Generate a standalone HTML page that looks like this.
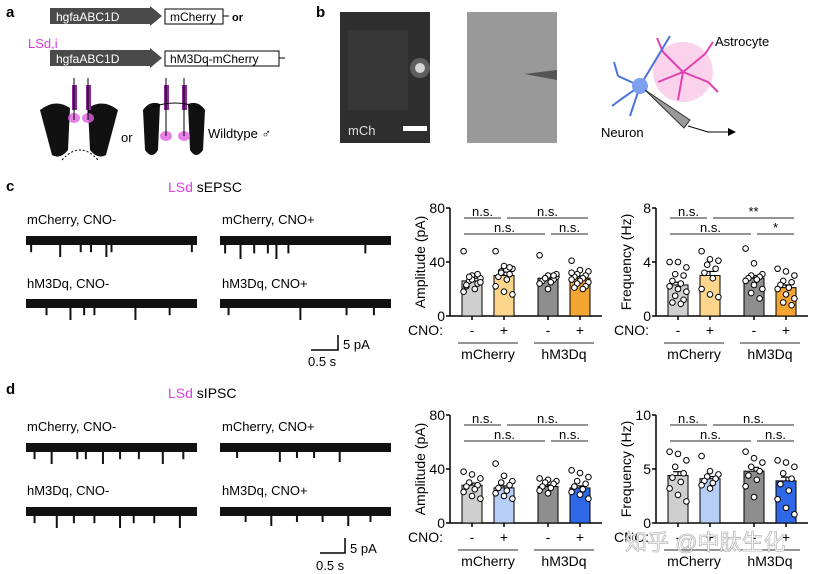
<!DOCTYPE html>
<html><head><meta charset="utf-8"><style>
html,body{margin:0;padding:0;background:#fff;}
svg{display:block;font-family:"Liberation Sans",Arial,sans-serif;}
</style></head><body>
<svg id="fig" width="831" height="574" viewBox="0 0 831 574" xmlns="http://www.w3.org/2000/svg">
<g>
<text x="6" y="17" font-size="15" font-weight="bold">a</text>
<text x="28" y="48" font-size="13" fill="#d63ad6">LSd,i</text>
<rect x="50" y="8" width="100" height="16" fill="#4a4a4a"/>
<polygon points="150,6 162,16 150,26" fill="#4a4a4a"/>
<text x="56" y="21" font-size="12" fill="#fff">hgfaABC1D</text>
<rect x="165" y="9" width="58" height="15" fill="#fff" stroke="#000"/>
<text x="170" y="21" font-size="12">mCherry</text>
<line x1="223" y1="16" x2="229" y2="16" stroke="#000"/>
<text x="232" y="21" font-size="11" font-weight="bold">or</text>
<rect x="50" y="50" width="100" height="16" fill="#4a4a4a"/>
<polygon points="150,48 162,58 150,68" fill="#4a4a4a"/>
<text x="56" y="63" font-size="12" fill="#fff">hgfaABC1D</text>
<rect x="165" y="51" width="114" height="15" fill="#fff" stroke="#000"/>
<text x="170" y="63" font-size="12">hM3Dq-mCherry</text>
<line x1="279" y1="58" x2="285" y2="58" stroke="#000"/>
<g>
<path d="M40,110 Q55,98 70,108 L68,150 Q60,160 52,155 Z" fill="#111"/>
<path d="M118,110 Q103,98 88,108 L90,150 Q98,160 106,155 Z" fill="#111"/>
<ellipse cx="74" cy="118" rx="6" ry="5" fill="#e060e0" opacity="0.8"/>
<ellipse cx="88" cy="118" rx="6" ry="5" fill="#e060e0" opacity="0.8"/>
<rect x="72" y="85" width="5" height="25" fill="#8a2a9a"/><rect x="86" y="85" width="5" height="25" fill="#8a2a9a"/>
<line x1="74" y1="78" x2="74" y2="120" stroke="#000"/><line x1="88" y1="78" x2="88" y2="120" stroke="#000"/>
<path d="M62,160 Q80,140 98,160" fill="none" stroke="#000" stroke-dasharray="2,2"/>
</g>
<text x="121" y="142" font-size="13">or</text>
<g>
<path d="M143,110 Q150,100 160,104 L158,150 Q152,160 145,150 Z" fill="#111"/>
<path d="M205,110 Q198,100 188,104 L190,150 Q196,160 203,150 Z" fill="#111"/>
<ellipse cx="166" cy="136" rx="6" ry="5" fill="#e060e0" opacity="0.8"/>
<ellipse cx="184" cy="136" rx="6" ry="5" fill="#e060e0" opacity="0.8"/>
<rect x="164" y="85" width="5" height="25" fill="#8a2a9a"/><rect x="182" y="85" width="5" height="25" fill="#8a2a9a"/>
<line x1="166" y1="78" x2="166" y2="136" stroke="#000"/><line x1="184" y1="78" x2="184" y2="136" stroke="#000"/>
<path d="M150,108 Q175,98 200,108" fill="none" stroke="#000"/>
</g>
<text x="208" y="138" font-size="13">Wildtype ♂</text>
</g>
<g>
<text x="316" y="17" font-size="15" font-weight="bold">b</text>
<rect x="340" y="12" width="90" height="131" fill="#2e2e2e"/>
<rect x="348" y="30" width="60" height="80" fill="#3d3d3d" opacity="0.6"/>
<circle cx="420" cy="68" r="5" fill="#f4f4f4"/>
<circle cx="420" cy="68" r="10" fill="#aaa" opacity="0.4"/>
<text x="348" y="135" font-size="13" fill="#ddd">mCh</text>
<rect x="403" y="126" width="24" height="5" fill="#fff"/>
<rect x="467" y="12" width="90" height="131" fill="#8c8c8c"/>
<rect x="467" y="12" width="90" height="131" fill="#a5a5a5" opacity="0.5"/>
<polygon points="524,74 557,70 557,80" fill="#555"/>
<text x="715" y="46" font-size="13">Astrocyte</text>
<circle cx="683" cy="72" r="30" fill="#f6b4e0" opacity="0.6"/>
<path d="M683,72 l-20,-20 M683,72 l22,-18 M683,72 l25,10 M683,72 l-5,28 M683,72 l-25,10 M663,52 l-6,-14 M705,54 l8,-12 M708,82 l10,10" stroke="#e040b0" stroke-width="2" fill="none"/>
<path d="M640,86 l-22,-10 M640,86 l-20,14 M640,86 l-10,30 M640,86 l30,-50 M618,76 l-4,-14 M620,100 l-8,6" stroke="#4a72d8" stroke-width="2" fill="none"/>
<circle cx="640" cy="86" r="8" fill="#7d9ff0"/>
<polygon points="645,90 690,120 684,128" fill="#999" stroke="#333"/>
<path d="M688,126 l20,6 l20,0" stroke="#000" fill="none"/>
<polygon points="728,128 736,132 728,136" fill="#000"/>
<text x="601" y="137" font-size="13">Neuron</text>
</g>
<text x="6" y="191" font-size="15" font-weight="bold">c</text>
<text x="168" y="192" font-size="14"><tspan fill="#e040e0">LSd</tspan> sEPSC</text>
<text x="6" y="394" font-size="15" font-weight="bold">d</text>
<text x="168" y="398" font-size="14"><tspan fill="#e040e0">LSd</tspan> sIPSC</text>
<g font-size="13">
<text x="27" y="224">mCherry, CNO-</text><text x="222" y="224">mCherry, CNO+</text>
<text x="27" y="288">hM3Dq, CNO-</text><text x="222" y="288">hM3Dq, CNO+</text>
<text x="27" y="431">mCherry, CNO-</text><text x="222" y="431">mCherry, CNO+</text>
<text x="27" y="495">hM3Dq, CNO-</text><text x="222" y="495">hM3Dq, CNO+</text>
</g>
<g id="traces"></g>
<g stroke="#000" stroke-width="1.5" fill="none">
<path d="M311,350 H338 V335"/></g>
<text x="343" y="349" font-size="13">5 pA</text><text x="308" y="366" font-size="13">0.5 s</text>
<g stroke="#000" stroke-width="1.5" fill="none">
<path d="M320,553 H345 V538"/></g>
<text x="350" y="553" font-size="13">5 pA</text><text x="316" y="570" font-size="13">0.5 s</text>
<g id="charts"></g>
<text x="625" y="550" font-size="22" fill="#fff" stroke="#bbb" stroke-width="0.8" font-family="'Liberation Sans','Noto Sans CJK SC',sans-serif">知乎 @中肽生化</text>
</svg>
<script>
const NS="http://www.w3.org/2000/svg";
function mk(tag,attrs,parent){const e=document.createElementNS(NS,tag);for(const k in attrs)e.setAttribute(k,attrs[k]);parent.appendChild(e);return e;}

const traceRows=[[26,241],[220,241],[26,304],[220,304],[26,448],[220,448],[26,512],[220,512]];
const spikesC1=[0.03,0.2,0.32,0.38,0.47,0.5,0.97];
const spikesC2=[0.03,0.12,0.2,0.28,0.33,0.4,0.85];
const spikesC3=[0.12,0.26,0.34,0.4,0.64,0.84];
const spikesC4=[0.05,0.47,0.74,0.9];
const spikesD1=[0.05,0.15,0.3,0.35,0.45,0.55,0.66,0.8,0.92];
const spikesD2=[0.1,0.35,0.45,0.55,0.7];
const spikesD3=[0.05,0.18,0.28,0.4,0.55,0.63,0.75,0.9];
const spikesD4=[0.15,0.3,0.45,0.6,0.75,0.88];
const spikeSets=[spikesC1,spikesC2,spikesC3,spikesC4,spikesD1,spikesD2,spikesD3,spikesD4];
const spikeDepth=[12,14,12,12,12,10,12,10];
const tg=document.getElementById('traces');
traceRows.forEach((r,i)=>{
  const g=mk('g',{},tg);
  
  
  mk('rect',{x:r[0],y:r[1]-5,width:171,height:9,fill:'#111'},g);
  spikeSets[i].forEach((f,j)=>{
    const x=r[0]+f*171;
    const l=mk('line',{x1:x,y1:r[1],x2:x,y2:r[1]+4+spikeDepth[i]*(j%3===1?1:0.6),stroke:'#111','stroke-width':2},g);
    
    
  });
});

const groups=['mCherry','hM3Dq'];
const cnoLabels=['-','+','-','+'];
const ampEPSC=[26,30,28,28];
const freqEPSC=[2.3,3.0,2.8,2.1];
const ampIPSC=[28,26,27,26];
const freqIPSC=[4.4,4.1,4.8,3.9];
const semAmpEPSC=[2,2.5,1.5,1.5];
const semFreqEPSC=[0.2,0.3,0.2,0.2];
const semAmpIPSC=[1.5,1.5,1.2,1.5];
const semFreqIPSC=[0.35,0.2,0.35,0.35];
const ptsAmpEPSC=[[48,30,28,26,24,22,20,18,27,25,29,31,23],[48,37,35,33,31,29,27,22,18,16,32,36],[45,30,29,28,27,26,25,24,20,31,28,30],[41,34,33,31,30,29,28,27,26,25,24,22,21,20,32]];
const ptsFreqEPSC=[[4.0,4.0,3.6,3.1,3.0,2.6,2.4,2.2,2.0,1.8,1.5,1.2,1.0,0.9],[4.8,4.2,4.1,3.8,3.5,3.2,2.8,2.0,1.6,1.4],[5.0,3.9,3.1,3.0,2.9,2.8,2.7,2.6,2.3,2.0,1.7,1.3],[3.5,3.3,3.0,2.6,2.5,2.3,2.1,2.0,1.6,1.3,1.0,0.8]];
const ptsAmpIPSC=[[38,36,33,30,28,27,25,23,20,18],[44,35,31,30,28,26,24,22,20,18],[33,32,31,30,29,27,26,24,22],[39,37,34,31,29,27,25,23,21,18]];
const ptsFreqIPSC=[[6.6,6.4,5.8,5.2,4.6,4.2,3.8,3.2,2.6,2.0],[6.2,4.8,4.5,4.3,4.1,3.9,3.7,3.5,3.2],[6.6,6.0,5.6,5.2,4.8,4.4,4.0,3.4,2.4],[5.8,5.6,5.2,4.6,4.1,3.6,3.0,2.2,1.4,0.8]];
const colsC=['#cfcfcf','#fdd68c','#8e8e8e','#f5a533'];
const colsD=['#cfcfcf','#b7cff7','#8e8e8e','#2f68e6'];
const sigC1=['n.s.','n.s.','n.s.','n.s.'];
const sigC2=['n.s.','**','n.s.','*'];
const sigD=['n.s.','n.s.','n.s.','n.s.'];
const ticksAmp=[0,40,80];
const ticksFreqC=[0,4,8];
const ticksFreqD=[0,5,10];

const cg=document.getElementById('charts');
function chart(name,ax,y0,y1,ymax,ticks,title,means,sems,pts,cols,sig){
  const g=mk('g',{},cg);
  
  
  const ys=v=>y0-(v/ymax)*(y0-y1);
  const xs=i=>ax+22+i*32+(i>=2?12:0);
  mk('line',{x1:ax,y1:y1,x2:ax,y2:y0,stroke:'#000','stroke-width':1.5},g);
  mk('line',{x1:ax,y1:y0,x2:ax+152,y2:y0,stroke:'#000','stroke-width':1.5},g);
  ticks.forEach(t=>{
    mk('line',{x1:ax-4,y1:ys(t),x2:ax,y2:ys(t),stroke:'#000','stroke-width':1.5},g);
    const tx=mk('text',{x:ax-5,y:ys(t)+5,'font-size':14,'text-anchor':'end'},g);tx.textContent=t;
    
    
  });
  const tt=mk('text',{x:0,y:0,'font-size':14,'text-anchor':'middle',transform:`translate(${ax-25},${(y0+y1)/2}) rotate(-90)`},g);
  tt.textContent=title;
  
  
  means.forEach((m,i)=>{
    const b=mk('rect',{x:xs(i)-10,y:ys(m),width:20,height:y0-ys(m),fill:cols[i],stroke:'#000','stroke-width':1},g);
    
    
    mk('line',{x1:xs(i),y1:ys(m+sems[i]),x2:xs(i),y2:ys(m),stroke:'#000','stroke-width':1.2},g);
    mk('line',{x1:xs(i)-5,y1:ys(m+sems[i]),x2:xs(i)+5,y2:ys(m+sems[i]),stroke:'#000','stroke-width':1.2},g);
    pts[i].forEach((v,j)=>{
      const c=mk('circle',{cx:xs(i)+(((j*3)%7)-3)*2.8,cy:ys(v),r:2.8,fill:'#fff',stroke:'#000','stroke-width':1},g);
      
      
    });
    mk('line',{x1:xs(i),y1:y0,x2:xs(i),y2:y0+4,stroke:'#000','stroke-width':1.5},g);
    const cl=mk('text',{x:xs(i),y:y0+19,'font-size':14,'text-anchor':'middle'},g);cl.textContent=cnoLabels[i];
  });
  const cn=mk('text',{x:ax-7,y:y0+19,'font-size':14,'text-anchor':'end'},g);cn.textContent='CNO:';
  groups.forEach((gn,k)=>{
    const a=xs(2*k)-14,b=xs(2*k+1)+14;
    mk('line',{x1:a,y1:y0+27,x2:b,y2:y0+27,stroke:'#555','stroke-width':1.2},g);
    const t=mk('text',{x:(a+b)/2,y:y0+43,'font-size':14,'text-anchor':'middle'},g);t.textContent=gn;
    
    
  });
  const r1=y1+10,r2=y1+26;
  const br=[[xs(0)-8,xs(1)-3,r1],[xs(1)+3,xs(3)+8,r1],[xs(0)-8,xs(2)-3,r2],[xs(2)+3,xs(3)+8,r2]];
  br.forEach((q,i)=>{
    mk('line',{x1:q[0],y1:q[2],x2:q[1],y2:q[2],stroke:'#555','stroke-width':1.2},g);
    const s=mk('text',{x:(q[0]+q[1])/2,y:q[2]-2,'font-size':13,'text-anchor':'middle'},g);s.textContent=sig[i];
  });
}
chart('amplitude-sepsc-chart',450,316,208,80,ticksAmp,'Amplitude (pA)',ampEPSC,semAmpEPSC,ptsAmpEPSC,colsC,sigC1);
chart('frequency-sepsc-chart',656,316,208,8,ticksFreqC,'Frequency (Hz)',freqEPSC,semFreqEPSC,ptsFreqEPSC,colsC,sigC2);
chart('amplitude-sipsc-chart',450,523,415,80,ticksAmp,'Amplitude (pA)',ampIPSC,semAmpIPSC,ptsAmpIPSC,colsD,sigD);
chart('frequency-sipsc-chart',656,523,415,10,ticksFreqD,'Frequency (Hz)',freqIPSC,semFreqIPSC,ptsFreqIPSC,colsD,sigD);
</script>
</body></html>
